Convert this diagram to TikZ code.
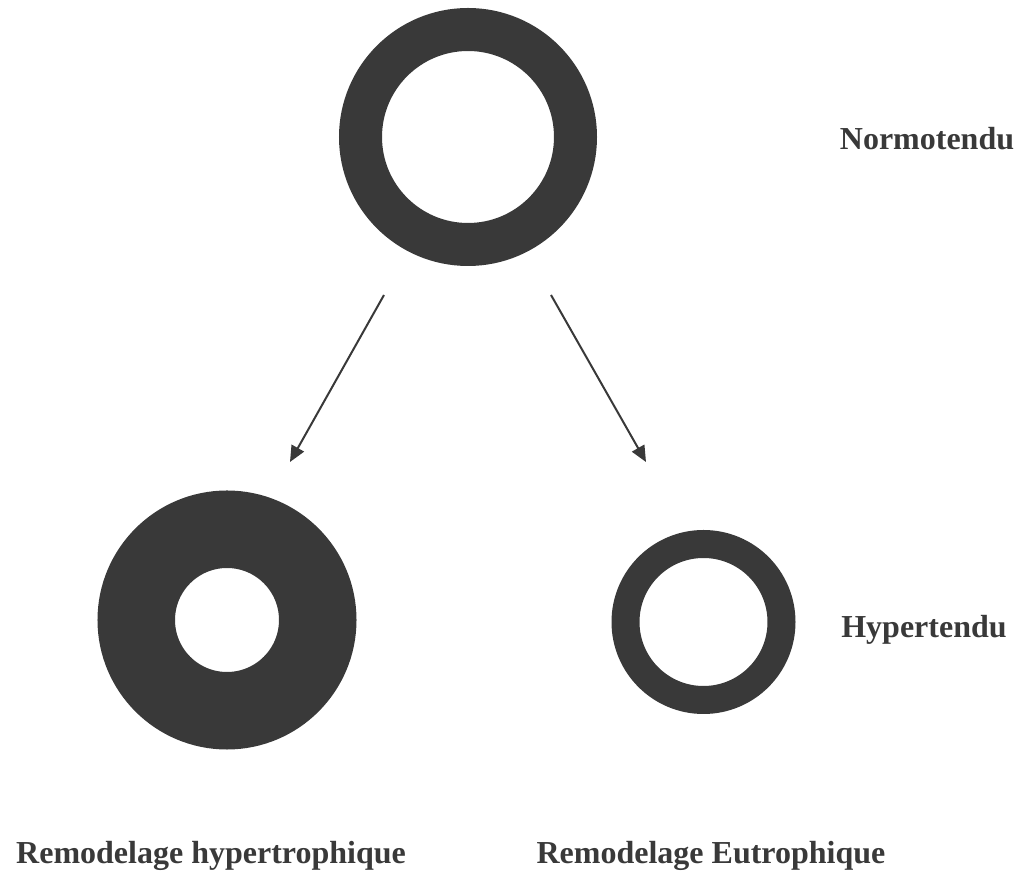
\documentclass[tikz,border=0pt]{standalone}
\usepackage{fontspec}
\setmainfont{Liberation Serif}
\usepackage{tikz}
\usetikzlibrary{arrows.meta,positioning}
\usepackage{xcolor}
\definecolor{ringgrey}{HTML}{393939}
\tikzset{
  ring/.style={circle, draw=ringgrey, inner sep=0pt, outer sep=0pt},
  lbl/.style={font=\fontsize{16}{19}\selectfont\bfseries, text=ringgrey,
              inner sep=0pt},
  flow/.style={-{Triangle[length=8pt,width=7pt]}, line width=1pt, draw=ringgrey},
}
\begin{document}
\begin{tikzpicture}[x=0.5pt, y=0.5pt]
\useasboundingbox (0,0) rectangle (1024,878);

% vessels
\node[ring, minimum size=107.5pt, line width=21.5pt] (normo) at (468,741) {};
\node[ring, minimum size=90.75pt, line width=38.75pt] (hyper) at (227,258) {};
\node[ring, minimum size=78pt, line width=14pt] (eutro) at (703.5,256) {};

% labels
\node[lbl] (lnormo) at (927,739) {Normotendu};
\node[lbl] (lhyper) at (924,248) {Hypertendu};
\node[lbl, anchor=base] (lhyp) at (211,14) {Remodelage hypertrophique};
\node[lbl, anchor=base] (leut) at (711,14) {Remodelage Eutrophique};

% arrows
\coordinate (s1) at (384,583);
\coordinate (e1) at (290,416);
\coordinate (s2) at (551,583);
\coordinate (e2) at (646,416);
\draw[flow] (s1) -- (e1);
\draw[flow] (s2) -- (e2);
\end{tikzpicture}
\end{document}
